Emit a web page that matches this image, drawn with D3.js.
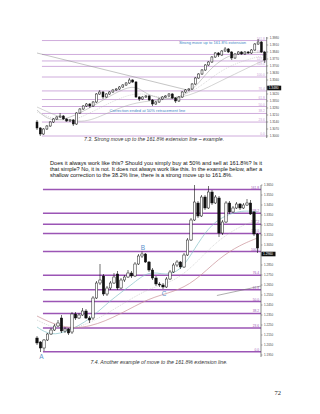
<!DOCTYPE html>
<html>
<head>
<meta charset="utf-8">
<script src="https://cdn.jsdelivr.net/npm/d3@7/dist/d3.min.js"></script>
<style>
  body { margin: 0; background: #fff; }
  svg { display: block; }
</style>
</head>
<body>
<svg id="page" width="320" height="414"></svg>
<script>
// ---- chart 7.3 : candles [open, high, low, close]
var candles1 = [
  [1.314,1.316,1.306,1.308],[1.308,1.309,1.300,1.302],[1.302,1.308,1.301,1.307],[1.307,1.311,1.306,1.310],
  [1.310,1.315,1.309,1.314],[1.314,1.318,1.313,1.317],[1.317,1.320,1.316,1.319],[1.319,1.323,1.318,1.320],
  [1.320,1.321,1.316,1.317],[1.317,1.318,1.314,1.315],[1.315,1.317,1.314,1.316],[1.316,1.317,1.310,1.312],
  [1.312,1.324,1.311,1.323],[1.323,1.328,1.322,1.327],[1.327,1.331,1.326,1.330],[1.330,1.333,1.329,1.332],
  [1.332,1.333,1.328,1.330],[1.330,1.335,1.329,1.334],[1.334,1.343,1.333,1.342],[1.342,1.346,1.341,1.344],
  [1.344,1.345,1.337,1.339],[1.339,1.343,1.338,1.342],[1.342,1.345,1.341,1.344],[1.344,1.347,1.343,1.346],
  [1.346,1.348,1.345,1.347],[1.347,1.350,1.346,1.349],[1.349,1.352,1.348,1.351],[1.351,1.354,1.350,1.353],
  [1.353,1.358,1.352,1.356],[1.356,1.357,1.353,1.354],[1.354,1.355,1.338,1.339],[1.339,1.340,1.335,1.337],
  [1.337,1.340,1.336,1.339],[1.339,1.341,1.338,1.340],[1.340,1.341,1.335,1.336],[1.336,1.337,1.330,1.332],
  [1.332,1.335,1.331,1.334],[1.334,1.338,1.333,1.337],[1.337,1.340,1.336,1.339],[1.339,1.341,1.338,1.340],
  [1.340,1.343,1.339,1.342],[1.342,1.343,1.337,1.338],[1.338,1.339,1.333,1.335],[1.335,1.340,1.334,1.339],
  [1.339,1.345,1.338,1.344],[1.344,1.347,1.343,1.346],[1.346,1.348,1.345,1.347],[1.347,1.353,1.346,1.352],
  [1.352,1.359,1.351,1.358],[1.358,1.363,1.357,1.362],[1.362,1.367,1.361,1.366],[1.366,1.372,1.365,1.371],
  [1.371,1.375,1.370,1.374],[1.374,1.380,1.373,1.379],[1.379,1.384,1.378,1.383],[1.383,1.384,1.379,1.381],
  [1.381,1.386,1.380,1.385],[1.385,1.389,1.384,1.387],[1.387,1.388,1.383,1.384],[1.384,1.385,1.376,1.378],
  [1.378,1.383,1.377,1.382],[1.382,1.385,1.381,1.384],[1.384,1.385,1.381,1.382],[1.382,1.385,1.381,1.384],
  [1.384,1.385,1.382,1.383],[1.383,1.387,1.382,1.386],[1.386,1.393,1.385,1.392],[1.392,1.397,1.391,1.394],
  [1.394,1.395,1.383,1.384],[1.384,1.385,1.373,1.376]
]
// moving averages, [candle index, price]
var ma1Fast = [[0,1.326],[4,1.314],[10,1.318],[16,1.328],[22,1.340],[28,1.350],[31,1.348],[34,1.340],[39,1.337],[43,1.338],[48,1.348],[52,1.366],[57,1.379],[61,1.383],[69,1.384]]
var ma1Mid = [[0,1.324],[8,1.313],[13,1.318],[19,1.328],[25,1.338],[31,1.344],[37,1.338],[43,1.338],[49,1.348],[55,1.364],[61,1.374],[69,1.381]]
var ma1Slow = [[0,1.329],[12,1.311],[19,1.319],[28,1.333],[37,1.336],[46,1.339],[55,1.354],[65,1.370],[69,1.376]]
var trend1 = [[0,1.383],[45.5,1.346]]
var fibLevels = [0, 23.6, 38.2, 50, 61.8, 76.4, 100, 118, 127.2, 138.2, 161.8]
var fibBase1 = [1.3000, 1.3590]   // prices of 0% and 100%
var ticks1 = [1.300,1.307,1.314,1.321,1.328,1.335,1.342,1.349,1.356,1.363,1.370,1.377,1.384,1.391,1.398]
var lastPrice1 = 1.3480

// ---- chart 7.4
var candles2 = [
  [1.212,1.214,1.205,1.207],[1.208,1.209,1.198,1.202],[1.202,1.211,1.199,1.210],[1.210,1.217,1.209,1.216],
  [1.216,1.222,1.215,1.220],[1.220,1.226,1.219,1.224],[1.224,1.230,1.223,1.227],[1.232,1.235,1.217,1.219],
  [1.219,1.223,1.217,1.221],[1.221,1.222,1.215,1.217],[1.218,1.238,1.216,1.236],[1.236,1.238,1.230,1.232],
  [1.232,1.237,1.231,1.235],[1.235,1.242,1.234,1.239],[1.239,1.241,1.231,1.232],[1.232,1.234,1.227,1.230],
  [1.232,1.254,1.230,1.252],[1.252,1.269,1.251,1.267],[1.267,1.286,1.265,1.270],[1.274,1.276,1.254,1.256],
  [1.256,1.264,1.254,1.262],[1.262,1.269,1.260,1.267],[1.267,1.277,1.266,1.273],[1.276,1.279,1.260,1.262],
  [1.262,1.272,1.261,1.270],[1.270,1.275,1.268,1.273],[1.273,1.280,1.272,1.277],[1.277,1.279,1.272,1.274],
  [1.274,1.288,1.273,1.286],[1.286,1.296,1.285,1.294],[1.294,1.2985,1.292,1.296],[1.296,1.297,1.287,1.288],
  [1.288,1.289,1.278,1.280],[1.280,1.282,1.270,1.272],[1.272,1.274,1.264,1.266],[1.266,1.268,1.263,1.265],
  [1.265,1.267,1.261,1.263],[1.263,1.273,1.262,1.271],[1.271,1.280,1.270,1.278],[1.278,1.287,1.277,1.285],
  [1.285,1.290,1.283,1.288],[1.288,1.289,1.281,1.283],[1.283,1.297,1.282,1.295],[1.295,1.312,1.294,1.310],
  [1.310,1.332,1.309,1.330],[1.330,1.365,1.329,1.348],[1.347,1.349,1.332,1.334],[1.334,1.355,1.333,1.353],
  [1.353,1.355,1.340,1.342],[1.342,1.364,1.341,1.358],[1.358,1.360,1.345,1.347],[1.347,1.355,1.346,1.353],
  [1.352,1.354,1.313,1.317],[1.317,1.330,1.315,1.328],[1.328,1.349,1.327,1.347],[1.347,1.349,1.336,1.338],
  [1.338,1.344,1.337,1.342],[1.342,1.348,1.341,1.346],[1.346,1.347,1.340,1.342],[1.342,1.347,1.341,1.345],
  [1.345,1.351,1.344,1.347],[1.347,1.350,1.335,1.336],[1.338,1.339,1.314,1.316],[1.316,1.317,1.297,1.302]
]
var ma2Fast = [[0,1.223],[4,1.214],[9,1.219],[15,1.230],[21,1.250],[27,1.265],[32,1.280],[37,1.274],[41,1.280],[44,1.295],[48,1.318],[52,1.332],[58,1.340],[63,1.338]]
var ma2Mid = [[0,1.230],[7,1.218],[15,1.226],[24,1.245],[32,1.262],[39,1.268],[45,1.285],[51,1.308],[58,1.324],[63,1.330]]
var ma2Slow = [[0,1.234],[7,1.222],[15,1.222],[24,1.236],[32,1.252],[39,1.258],[45,1.268],[52,1.292],[58,1.305],[63,1.312]]
var trend2 = [[51.4,1.2545],[64,1.264]]
var fibBase2 = [1.1983, 1.2985]
var ticks2 = [1.195,1.205,1.215,1.225,1.235,1.245,1.255,1.265,1.275,1.285,1.295,1.305,1.315,1.325,1.335,1.345,1.355,1.365]
var lastPrice2 = 1.2960
var points2 = [['A', 1, 'low'], ['B', 30, 'high'], ['C', 36, 'low']]

var caption1 = '7.3. Strong move up to the 161.8% extension line \u2013 example.'
var caption2 = '7.4. Another example of move to the 161.8% extension line.'
var note1a = 'Strong move up to 161.8% extension'
var note1b = 'Correction ended at 50% retracement line'
var paragraph = [
  'Does it always work like this? Should you simply buy at 50% and sell at 161.8%? Is it',
  'that simple? No, it is not. It does not always work like this. In the example below, after a',
  'shallow correction to the 38.2% line, there is a strong move up to 161.8%.'
]
var pageNumber = '72'

var svg = d3.select('#page')
var fmt = d3.format('.4f')

function drawChart(opt) {
  var g = svg.append('g')
  var n = opt.candles.length
  var x = d3.scaleLinear().domain([0, n - 1]).range([opt.left, opt.right])
  var y = d3.scaleLinear().domain(opt.yDomain).range(opt.yRange)
  var fibY = function (r) {
    return y(opt.fibBase[0] + (r / 100) * (opt.fibBase[1] - opt.fibBase[0]))
  }

  // fibonacci lines
  g.append('g')
    .selectAll('line')
    .data(fibLevels)
    .join('line')
    .attr('x1', x(opt.fibStart))
    .attr('x2', opt.axisX)
    .attr('y1', fibY)
    .attr('y2', fibY)
    .attr('stroke', opt.fibColor)
    .attr('stroke-width', opt.fibWidth)

  g.append('g')
    .attr('font-family', 'Liberation Sans, Arial, sans-serif')
    .attr('font-size', 3.2)
    .attr('fill', opt.fibColor)
    .attr('text-anchor', 'end')
    .selectAll('text')
    .data(fibLevels)
    .join('text')
    .attr('x', opt.axisX - 2)
    .attr('y', function (d) { return fibY(d) - 1 })
    .text(function (d) { return d3.format('.1f')(d) })

  // moving averages and trend lines
  var line = d3.line()
    .x(function (d) { return x(d[0]) })
    .y(function (d) { return y(d[1]) })
    .curve(d3.curveBasis)
  opt.lines.forEach(function (l) {
    g.append('path')
      .attr('d', line(l.data))
      .attr('fill', 'none')
      .attr('stroke', l.color)
      .attr('stroke-width', l.width)
      .attr('stroke-dasharray', l.dash || null)
  })

  // candles
  var bw = opt.bodyWidth
  var c = g.append('g').selectAll('g').data(opt.candles).join('g')
  c.append('line')
    .attr('x1', function (d, i) { return x(i) })
    .attr('x2', function (d, i) { return x(i) })
    .attr('y1', function (d) { return y(d[1]) })
    .attr('y2', function (d) { return y(d[2]) })
    .attr('stroke', '#111')
    .attr('stroke-width', 0.6)
  c.append('rect')
    .attr('x', function (d, i) { return x(i) - bw / 2 })
    .attr('y', function (d) { return y(Math.max(d[0], d[3])) })
    .attr('width', bw)
    .attr('height', function (d) { return Math.max(0.6, Math.abs(y(d[0]) - y(d[3]))) })
    .attr('fill', function (d) { return d[3] >= d[0] ? '#fff' : '#111' })
    .attr('stroke', '#111')
    .attr('stroke-width', 0.5)

  // price axis
  var axis = g.append('g').attr('transform', 'translate(' + opt.axisX + ',0)')
  axis.append('line')
    .attr('y1', opt.axisTop).attr('y2', opt.axisBottom)
    .attr('stroke', '#555').attr('stroke-width', 0.7)
  var t = axis.selectAll('g.tick').data(opt.ticks).join('g')
    .attr('transform', function (d) { return 'translate(0,' + y(d) + ')' })
  t.append('line').attr('x2', 1.5).attr('stroke', '#555').attr('stroke-width', 0.5)
  t.append('text')
    .attr('x', 3)
    .attr('dy', '0.35em')
    .attr('font-family', 'Liberation Sans, Arial, sans-serif')
    .attr('font-size', 3)
    .attr('fill', '#444')
    .text(fmt)

  var box = axis.append('g').attr('transform', 'translate(0,' + y(opt.lastPrice) + ')')
  box.append('rect').attr('x', 0.5).attr('y', -2.3).attr('width', 14).attr('height', 4.6).attr('fill', '#111')
  box.append('text')
    .attr('x', 2).attr('dy', '0.35em')
    .attr('font-family', 'Liberation Sans, Arial, sans-serif')
    .attr('font-size', 3.2).attr('fill', '#fff')
    .text(fmt(opt.lastPrice))

  return { x: x, y: y, g: g }
}

var ch1 = drawChart({
  candles: candles1, left: 37, right: 264.7,
  yDomain: [1.300, 1.400], yRange: [136, 36],
  fibBase: fibBase1, fibStart: 1.5, fibColor: '#c9a3d8', fibWidth: 0.9,
  axisX: 266.7, axisTop: 37, axisBottom: 138,
  ticks: ticks1, lastPrice: lastPrice1, bodyWidth: 2,
  lines: [
    { data: ma1Fast, color: '#9a9a9a', width: 0.5 },
    { data: ma1Mid, color: '#b5b5b5', width: 0.5, dash: '1,1' },
    { data: ma1Slow, color: '#a8a8a8', width: 0.5 },
    { data: trend1, color: '#8a8a8a', width: 0.5 }
  ]
})

var ch2 = drawChart({
  candles: candles2, left: 37, right: 257.5,
  yDomain: [1.190, 1.370], yRange: [360, 180],
  fibBase: fibBase2, fibStart: 1.7, fibColor: '#9b55b5', fibWidth: 1.5,
  axisX: 261, axisTop: 185, axisBottom: 357,
  ticks: ticks2, lastPrice: lastPrice2, bodyWidth: 2.4,
  lines: [
    { data: ma2Fast, color: '#86c3c8', width: 0.7 },
    { data: ma2Mid, color: '#b0b0b0', width: 0.5, dash: '1,1' },
    { data: ma2Slow, color: '#c88f96', width: 0.7 },
    { data: trend2, color: '#777', width: 0.6 }
  ]
})

// A B C points
ch2.g.append('g')
  .attr('font-family', 'Liberation Sans, Arial, sans-serif')
  .attr('font-size', 6.5)
  .attr('fill', '#5b93cc')
  .attr('text-anchor', 'middle')
  .selectAll('text')
  .data(points2)
  .join('text')
  .attr('x', function (d) { return ch2.x(d[1]) + 1 })
  .attr('y', function (d) {
    var c = candles2[d[1]]
    return d[2] == 'high' ? ch2.y(c[1]) - 2 : ch2.y(c[2]) + 6.5
  })
  .text(function (d) { return d[0] })

// notes on chart 1
var notes = svg.append('g')
  .attr('font-family', 'Liberation Sans, Arial, sans-serif')
  .attr('font-size', 4.1)
  .attr('fill', '#3f86c6')
notes.append('text').attr('x', ch1.x(43)).attr('y', ch1.y(1.3925)).text(note1a)
notes.append('text').attr('x', ch1.x(22)).attr('y', ch1.y(1.3245)).text(note1b)

// captions
var cap = svg.append('g')
  .attr('font-family', 'Liberation Sans, Arial, sans-serif')
  .attr('font-size', 5.2)
  .attr('font-style', 'italic')
  .attr('fill', '#333')
  .attr('text-anchor', 'middle')
cap.append('text').attr('x', 154).attr('y', 141).text(caption1)
cap.append('text').attr('x', 159).attr('y', 363.5).text(caption2)

// body text
svg.append('g')
  .attr('font-family', 'Liberation Sans, Arial, sans-serif')
  .attr('font-size', 5.6)
  .attr('fill', '#111')
  .selectAll('text')
  .data(paragraph)
  .join('text')
  .attr('x', 50)
  .attr('y', function (d, i) { return 165.3 + i * 6 })
  .attr('textLength', function (d, i) { return i < paragraph.length - 1 ? 212 : null })
  .attr('lengthAdjust', 'spacing')
  .text(function (d) { return d })

svg.append('text')
  .attr('x', 281).attr('y', 395)
  .attr('text-anchor', 'end')
  .attr('font-family', 'Liberation Serif, Times New Roman, serif')
  .attr('font-size', 6.5)
  .attr('fill', '#222')
  .text(pageNumber)
</script>
</body>
</html>
